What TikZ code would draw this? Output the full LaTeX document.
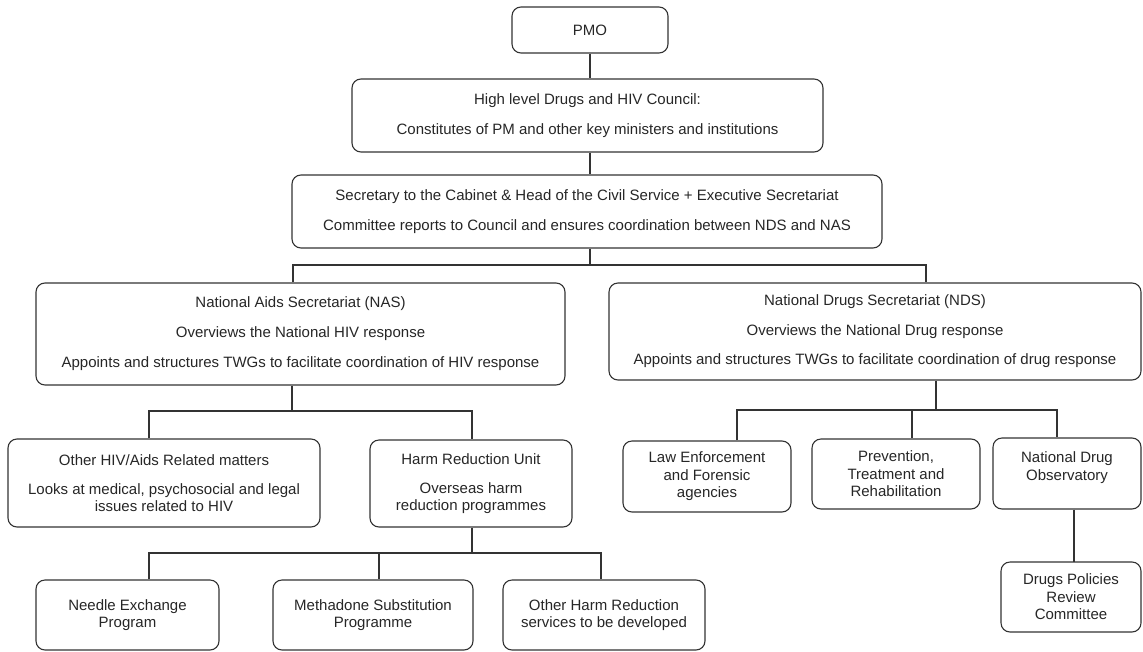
\documentclass[tikz,border=0pt]{standalone}
\usepackage{fontspec}
\setmainfont{Liberation Sans}
\usepackage{tikz}

\begin{document}
\begin{tikzpicture}[x=1pt,y=-1pt,
  box/.style={draw=black!80,line width=1.1pt,rounded corners=9pt,align=center,inner sep=0pt,
    font=\fontsize{15}{17.5}\selectfont,text=black!85},
  link/.style={draw=black!80,line width=1.1pt}
]
\useasboundingbox (0,0) rectangle (1143,651);

% top of the chart
\node[box,minimum width=156pt,minimum height=46pt] (pmo) at (590,30) {PMO};
\node[box,minimum width=471pt,minimum height=73pt] (council) at (587.5,115.5)
  {High level Drugs and HIV Council:\\[12.5pt]Constitutes of PM and other key ministers and institutions};
\node[box,minimum width=590pt,minimum height=73pt] (sec) at (587,211.5)
  {Secretary to the Cabinet \& Head of the Civil Service + Executive Secretariat\\[12.5pt]Committee reports to Council and ensures coordination between NDS and NAS};

% secretariats
\node[box,minimum width=529pt,minimum height=102pt] (nas) at (300.5,334)
  {National Aids Secretariat (NAS)\\[12.5pt]Overviews the National HIV response\\[12.5pt]Appoints and structures TWGs to facilitate coordination of HIV response};
\node[box,minimum width=532pt,minimum height=97pt] (nds) at (875,331.5)
  {National Drugs Secretariat (NDS)\\[12pt]Overviews the National Drug response\\[12pt]Appoints and structures TWGs to facilitate coordination of drug response};

% units
\node[box,minimum width=312pt,minimum height=88pt] (other) at (164,483)
  {Other HIV/Aids Related matters\\[11.5pt]Looks at medical, psychosocial and legal\\issues related to HIV};
\node[box,minimum width=202pt,minimum height=87pt] (hru) at (471,483.5)
  {Harm Reduction Unit\\[11.5pt]Overseas harm\\reduction programmes};
\node[box,minimum width=168pt,minimum height=71pt] (law) at (707,476.5)
  {Law Enforcement\\and Forensic\\agencies};
\node[box,minimum width=168pt,minimum height=70pt] (prev) at (896,474)
  {Prevention,\\Treatment and\\Rehabilitation};
\node[box,minimum width=148pt,minimum height=71pt,text depth=15pt] (ndo) at (1067,473.5)
  {National Drug\\Observatory};
\node[box,minimum width=140pt,minimum height=70pt] (dpr) at (1071,597)
  {Drugs Policies\\Review\\Committee};

% programmes
\node[box,minimum width=183pt,minimum height=70pt] (needle) at (127.5,615)
  {Needle Exchange\\Program};
\node[box,minimum width=200pt,minimum height=70pt] (meth) at (373,615)
  {Methadone Substitution\\Programme};
\node[box,minimum width=202pt,minimum height=70pt] (oharm) at (604,615)
  {Other Harm Reduction\\services to be developed};

% bus points
\coordinate (j0) at (590,265);
\coordinate (nasin) at (293,265);
\coordinate (ndsin) at (926,265);
\coordinate (nasout) at (292,411);
\coordinate (otherin) at (149,411);
\coordinate (hruin) at (472,411);
\coordinate (hruout) at (472,553);
\coordinate (needlein) at (149,553);
\coordinate (methin) at (379,553);
\coordinate (oharmin) at (601,553);
\coordinate (ndsout) at (936,410);
\coordinate (lawin) at (737,410);
\coordinate (previn) at (912,410);
\coordinate (ndoin) at (1057,410);
\coordinate (dprin) at (1074,562);

\draw[link] (pmo.south) -- (pmo.south |- council.north);
\draw[link] (council.south -| pmo) -- (sec.north -| pmo);
\draw[link] (sec.south -| j0) -- (j0);
\draw[link] (nasin |- nas.north) -- (nasin) -- (ndsin) -- (ndsin |- nds.north);

\draw[link] (nas.south -| nasout) -- (nasout);
\draw[link] (otherin |- other.north) -- (otherin) -- (hruin) -- (hruin |- hru.north);

\draw[link] (hru.south -| hruout) -- (hruout);
\draw[link] (needlein |- needle.north) -- (needlein) -- (oharmin) -- (oharmin |- oharm.north);
\draw[link] (methin) -- (methin |- meth.north);

\draw[link] (nds.south -| ndsout) -- (ndsout);
\draw[link] (lawin |- law.north) -- (lawin) -- (ndoin) -- (ndoin |- ndo.north);
\draw[link] (previn) -- (previn |- prev.north);
\draw[link] (ndo.south -| dprin) -- (dprin);
\end{tikzpicture}
\end{document}
